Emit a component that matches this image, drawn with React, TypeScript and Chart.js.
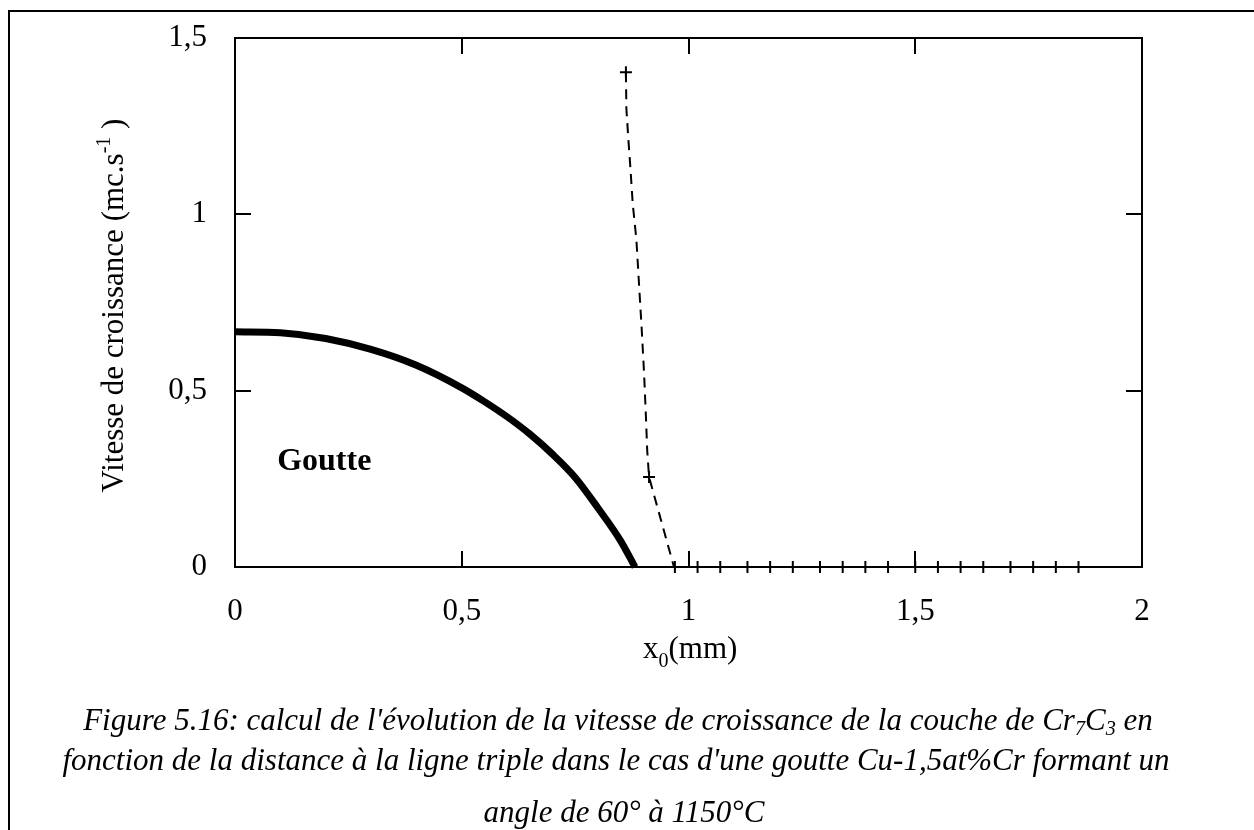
import React, { useEffect, useRef } from "react";
import { Chart, registerables } from "chart.js";

Chart.register(...registerables);

// ---- data ----
const solidX = [0, 0.1, 0.2, 0.3, 0.4, 0.5, 0.55, 0.6, 0.65, 0.7, 0.75, 0.8, 0.85, 0.882];
const solidY = [0.667, 0.664, 0.648, 0.617, 0.572, 0.508, 0.469, 0.426, 0.377, 0.32, 0.254, 0.168, 0.075, 0];

const dashX = [0.862, 0.863, 0.867, 0.872, 0.877, 0.885, 0.891, 0.897, 0.902, 0.906, 0.909, 0.913, 0.968, 1.86];
const dashY = [1.403, 1.3, 1.22, 1.13, 1.03, 0.93, 0.8, 0.67, 0.55, 0.43, 0.33, 0.255, 0, 0];

const markerX = [0.862, 0.913, 0.97, 1.02, 1.07, 1.13, 1.18, 1.23, 1.29, 1.34, 1.39, 1.44, 1.5, 1.55, 1.6, 1.65, 1.71, 1.76, 1.81, 1.86];
const markerY = [1.403, 0.255, 0, 0, 0, 0, 0, 0, 0, 0, 0, 0, 0, 0, 0, 0, 0, 0, 0, 0];

const xTickStep = 0.5;
const yTickStep = 0.5;
const xRange = [0, 2];
const yRange = [0, 1.5];

const yTitleMain = "Vitesse de croissance (mc.s";
const yTitleSup = "-1";
const yTitleEnd = " )";
const xTitleMain = "x";
const xTitleSub = "0";
const xTitleEnd = "(mm)";
const annotationText = "Goutte";
const annotationPos = [0.093, 0.275];

const captionLines = [
  ["Figure 5.16: calcul de l'évolution de la vitesse de croissance de la couche de Cr", "7", "C", "3", " en"],
  ["fonction de la distance à la ligne triple dans le cas d'une goutte Cu-1,5at%Cr formant un"],
  ["angle de 60° à 1150°C"],
];

const SERIF = '"Liberation Serif", "Times New Roman", serif';

const fmt = (v: any) => String(v).replace(".", ",");

const overlayPlugin = {
  id: "overlay",
  beforeDatasetsDraw(chart: any) {
    const { ctx, chartArea: a, scales } = chart;
    const xs = scales.x;
    const ys = scales.y;
    ctx.save();
    ctx.strokeStyle = "#000";
    ctx.lineWidth = 2;
    ctx.strokeRect(a.left, a.top, a.right - a.left, a.bottom - a.top);
    const L = 16;
    ctx.beginPath();
    xs.ticks.forEach((t: any) => {
      if (t.value <= xs.min || t.value >= xs.max) return;
      const px = Math.round(xs.getPixelForValue(t.value));
      ctx.moveTo(px, a.bottom);
      ctx.lineTo(px, a.bottom - L);
      ctx.moveTo(px, a.top);
      ctx.lineTo(px, a.top + L);
    });
    ys.ticks.forEach((t: any) => {
      if (t.value <= ys.min || t.value >= ys.max) return;
      const py = Math.round(ys.getPixelForValue(t.value));
      ctx.moveTo(a.left, py);
      ctx.lineTo(a.left + L, py);
      ctx.moveTo(a.right, py);
      ctx.lineTo(a.right - L, py);
    });
    ctx.stroke();
    ctx.restore();
  },
  afterDraw(chart: any) {
    const { ctx, chartArea: a, scales } = chart;
    const xs = scales.x;
    const ys = scales.y;
    ctx.save();
    ctx.fillStyle = "#000";
    ctx.textBaseline = "alphabetic";
    ctx.textAlign = "left";

    // y title (rotated, with superscript)
    const mainFont = `31px ${SERIF}`;
    const supFont = `20px ${SERIF}`;
    ctx.font = mainFont;
    const w1 = ctx.measureText(yTitleMain).width;
    const w3 = ctx.measureText(yTitleEnd).width;
    ctx.font = supFont;
    const w2 = ctx.measureText(yTitleSup).width;
    const total = w1 + w2 + w3;
    const cy = (a.top + a.bottom) / 2 + 3;
    ctx.translate(123, cy);
    ctx.rotate(-Math.PI / 2);
    let cx = -total / 2;
    ctx.font = mainFont;
    ctx.fillText(yTitleMain, cx, 0);
    cx += w1;
    ctx.font = supFont;
    ctx.fillText(yTitleSup, cx, -13);
    cx += w2;
    ctx.font = mainFont;
    ctx.fillText(yTitleEnd, cx, 0);
    ctx.setTransform(1, 0, 0, 1, 0, 0);

    // x title with subscript
    let xx = 643;
    const base = 658;
    ctx.font = mainFont;
    ctx.fillText(xTitleMain, xx, base);
    xx += ctx.measureText(xTitleMain).width;
    ctx.font = supFont;
    ctx.fillText(xTitleSub, xx, base + 9);
    xx += ctx.measureText(xTitleSub).width;
    ctx.font = mainFont;
    ctx.fillText(xTitleEnd, xx, base);

    // annotation
    ctx.font = `bold 32px ${SERIF}`;
    ctx.fillText(annotationText, xs.getPixelForValue(annotationPos[0]), ys.getPixelForValue(annotationPos[1]));
    ctx.restore();
  },
};

function ChartCanvas() {
  const ref = useRef<HTMLCanvasElement | null>(null);
  useEffect(() => {
    if (!ref.current) return;
    const tickFont = { family: SERIF, size: 31 };
    const chart = new Chart(ref.current, {
      type: "scatter",
      data: {
        datasets: [
          {
            data: solidX.map((x, i) => ({ x, y: solidY[i] })),
            showLine: true,
            borderColor: "#000",
            borderWidth: 7,
            pointRadius: 0,
            cubicInterpolationMode: "monotone",
            clip: false,
          } as any,
          {
            data: dashX.map((x, i) => ({ x, y: dashY[i] })),
            showLine: true,
            borderColor: "#000",
            borderWidth: 2,
            borderDash: [10, 7],
            pointRadius: 0,
            tension: 0,
            clip: false,
          } as any,
          {
            data: markerX.map((x, i) => ({ x, y: markerY[i] })),
            showLine: false,
            pointStyle: "cross",
            pointRadius: 6,
            pointBorderWidth: 2,
            pointBorderColor: "#000",
            pointBackgroundColor: "#000",
            clip: false,
          } as any,
        ],
      },
      options: {
        animation: false,
        responsive: false,
        maintainAspectRatio: false,
        layout: { autoPadding: false, padding: { top: 38, right: 112, left: 0, bottom: 0 } },
        plugins: { legend: { display: false }, tooltip: { enabled: false } },
        scales: {
          x: {
            type: "linear",
            min: xRange[0],
            max: xRange[1],
            afterFit: (s: any) => {
              s.height = 263;
              s.paddingLeft = 0;
              s.paddingRight = 0;
            },
            ticks: {
              stepSize: xTickStep,
              callback: fmt,
              font: tickFont,
              color: "#000",
              padding: 26,
              maxRotation: 0,
              autoSkip: false,
            },
            grid: { display: false, drawTicks: false },
            border: { display: false },
          },
          y: {
            type: "linear",
            min: yRange[0],
            max: yRange[1],
            afterFit: (s: any) => {
              s.width = 235;
              s.paddingTop = 0;
              s.paddingBottom = 0;
            },
            ticks: {
              stepSize: yTickStep,
              callback: fmt,
              font: tickFont,
              color: "#000",
              padding: 28,
              autoSkip: false,
            },
            grid: { display: false, drawTicks: false },
            border: { display: false },
          },
        },
      } as any,
      plugins: [overlayPlugin],
    });
    return () => chart.destroy();
  }, []);
  return (
    <canvas
      ref={ref}
      width={1254}
      height={830}
      style={{ position: "absolute", left: 0, top: 0, width: 1254, height: 830 }}
    />
  );
}

const captionCenters = [618, 616, 624];
const captionTops = [702, 742, 794];

export default function App() {
  return (
    <div
      style={{
        position: "fixed",
        left: 0,
        top: 0,
        width: 1254,
        height: 830,
        overflow: "hidden",
        background: "#fff",
      }}
    >
      <div
        style={{
          position: "absolute",
          left: 8,
          top: 10,
          width: 1400,
          height: 1000,
          border: "2px solid #000",
          boxSizing: "border-box",
        }}
      />
      <ChartCanvas />
      {captionLines.map((parts, i) => (
        <div
          key={i}
          style={{
            position: "absolute",
            left: captionCenters[i] - 600,
            top: captionTops[i],
            width: 1200,
            textAlign: "center",
            whiteSpace: "nowrap",
            fontFamily: SERIF,
            fontStyle: "italic",
            fontSize: 31,
            lineHeight: "36px",
            color: "#000",
          }}
        >
          {parts.length === 1 ? (
            parts[0]
          ) : (
            <>
              {parts[0]}
              <sub style={{ fontSize: "0.65em", lineHeight: 0, verticalAlign: "-0.25em" }}>{parts[1]}</sub>
              {parts[2]}
              <sub style={{ fontSize: "0.65em", lineHeight: 0, verticalAlign: "-0.25em" }}>{parts[3]}</sub>
              {parts[4]}
            </>
          )}
        </div>
      ))}
    </div>
  );
}
